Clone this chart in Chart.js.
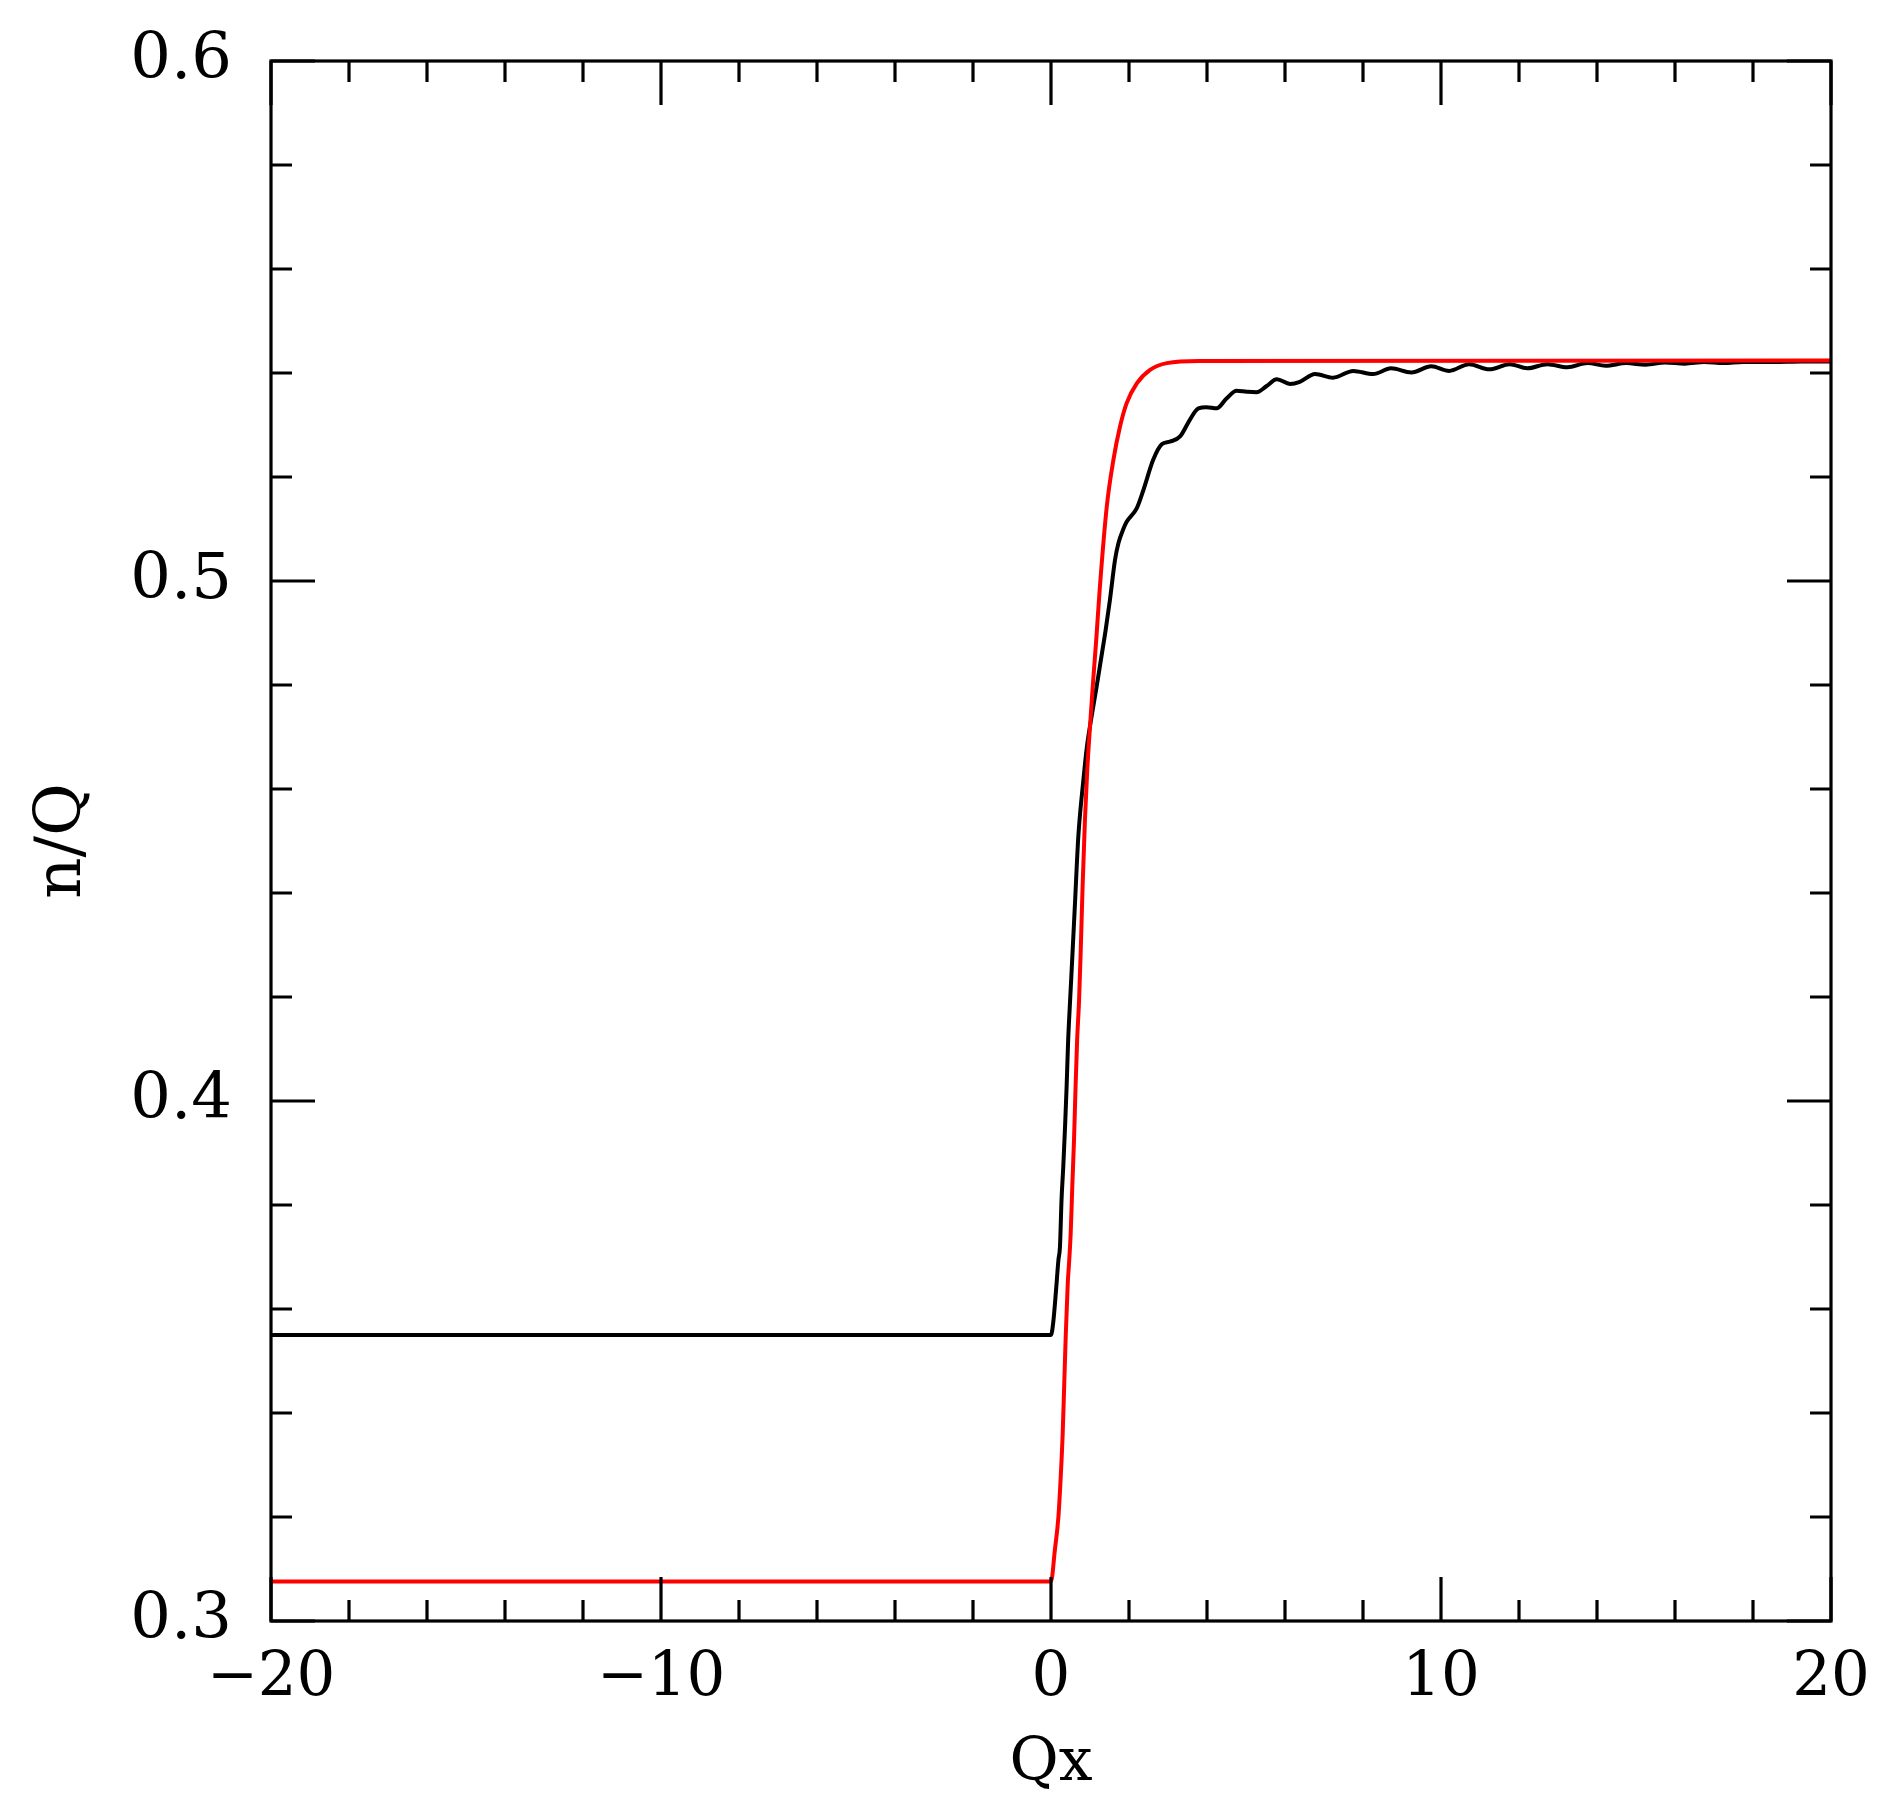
<!DOCTYPE html>
<html>
<head>
<meta charset="utf-8">
<script src="https://cdn.jsdelivr.net/npm/chart.js@4.4.1/dist/chart.umd.min.js"></script>
<style>
  html, body { margin: 0; padding: 0; background: #fff; }
  #wrap { width: 1899px; height: 1818px; }
</style>
</head>
<body>
<div id="wrap"><canvas id="stepChart" width="1899" height="1818"></canvas></div>
<script>
// n/Q vs Qx, black = computed profile, red = smooth step

const blackX = [-20, 0, 0.06, 0.13, 0.19, 0.23, 0.27, 0.315, 0.36, 0.40, 0.44, 0.49, 0.53, 0.615, 0.70, 0.83,
  0.92, 1.04, 1.17, 1.30, 1.40, 1.51, 1.64, 1.73, 1.86, 1.94, 2.2, 2.37, 2.62, 2.84, 3.05, 3.31, 3.56, 3.78,
  3.99, 4.25, 4.50, 4.76, 5.02, 5.27, 5.53, 5.79, 6.13, 6.38, 6.77, 7.23, 7.75, 8.26, 8.72, 9.24, 9.75, 10.21,
  10.72, 11.24, 11.76, 12.21, 12.73, 13.24, 13.76, 14.22, 14.75, 15.25, 15.75, 16.25, 16.75, 17.25, 17.75,
  18.5, 19.25, 20];
const blackY = [0.355, 0.355, 0.3576, 0.3637, 0.3694, 0.372, 0.381, 0.3874, 0.395, 0.4027, 0.4117, 0.4194,
  0.4252, 0.438, 0.4508, 0.4617, 0.4681, 0.4739, 0.4797, 0.4858, 0.4905, 0.4963, 0.504, 0.5073, 0.5101,
  0.5114, 0.514, 0.5175, 0.5233, 0.5263, 0.5268, 0.5278, 0.531, 0.5332, 0.5334, 0.5332, 0.5351, 0.5366,
  0.5364, 0.5363, 0.5375, 0.5388, 0.5379, 0.5383, 0.5398, 0.5391, 0.5404, 0.5398, 0.5409, 0.5401, 0.5413,
  0.5404, 0.5417, 0.5407, 0.5417, 0.5409, 0.5417, 0.5411, 0.5419, 0.5414, 0.5419, 0.5416, 0.542, 0.5418,
  0.5421, 0.5419, 0.5421, 0.5421, 0.5422, 0.5422];

const redX = [-20, 0, 0.10, 0.19, 0.25, 0.30, 0.34, 0.38, 0.43, 0.46, 0.505, 0.546, 0.59, 0.63, 0.67, 0.72,
  0.76, 0.81, 0.87, 0.93, 1.0, 1.07, 1.16, 1.25, 1.43, 1.60, 1.77, 1.94, 2.2, 2.54, 2.97, 3.82, 20];
const redY = [0.3076, 0.3076, 0.3137, 0.32, 0.3278, 0.3361, 0.3457, 0.3553, 0.365, 0.3685, 0.3746, 0.3836,
  0.3925, 0.4027, 0.4117, 0.4194, 0.4284, 0.4412, 0.454, 0.4637, 0.472, 0.4797, 0.4887, 0.4985, 0.5143,
  0.5233, 0.5297, 0.5342, 0.538, 0.5406, 0.5419, 0.5423, 0.5424];

const xMajor = [-20, -10, 0, 10, 20];
const xMinor = [-18, -16, -14, -12, -8, -6, -4, -2, 2, 4, 6, 8, 12, 14, 16, 18];
const yMajor = [0.3, 0.4, 0.5, 0.6];
const yMinor = [0.32, 0.34, 0.36, 0.38, 0.42, 0.44, 0.46, 0.48, 0.52, 0.54, 0.56, 0.58];

function toPoints(xs, ys) {
  return xs.map((x, i) => ({ x: x, y: ys[i] }));
}

const FONT = 'DejaVu Serif';

// frame with inward ticks on all four sides
const frameTicks = {
  id: 'frameTicks',
  afterDraw(chart) {
    const { ctx, chartArea: a, scales } = chart;
    const big = 44, small = 21;
    ctx.save();
    ctx.strokeStyle = '#000';
    ctx.lineWidth = 3.2;
    ctx.lineCap = 'butt';
    ctx.strokeRect(a.left, a.top, a.right - a.left, a.bottom - a.top);
    ctx.beginPath();
    const xt = (vals, len) => vals.forEach(v => {
      const px = scales.x.getPixelForValue(v);
      ctx.moveTo(px, a.bottom); ctx.lineTo(px, a.bottom - len);
      ctx.moveTo(px, a.top); ctx.lineTo(px, a.top + len);
    });
    const yt = (vals, len) => vals.forEach(v => {
      const py = scales.y.getPixelForValue(v);
      ctx.moveTo(a.left, py); ctx.lineTo(a.left + len, py);
      ctx.moveTo(a.right, py); ctx.lineTo(a.right - len, py);
    });
    xt(xMajor, big); xt(xMinor, small);
    yt(yMajor, big); yt(yMinor, small);
    ctx.stroke();
    ctx.restore();
  }
};

const ctx = document.getElementById('stepChart').getContext('2d');
const stepChart = new Chart(ctx, {
  type: 'line',
  data: {
    datasets: [{
      label: 'step',
      data: toPoints(redX, redY),
      borderColor: '#ff0000',
      borderWidth: 4,
      pointRadius: 0,
      cubicInterpolationMode: 'monotone',
      fill: false
    }, {
      label: 'profile',
      data: toPoints(blackX, blackY),
      borderColor: '#000000',
      borderWidth: 4,
      pointRadius: 0,
      cubicInterpolationMode: 'monotone',
      fill: false
    }]
  },
  options: {
    responsive: false,
    animation: false,
    events: [],
    layout: { padding: { top: 61, right: 68, left: 0, bottom: 0 } },
    plugins: {
      legend: { display: false },
      tooltip: { enabled: false }
    },
    scales: {
      x: {
        type: 'linear',
        min: -20,
        max: 20,
        afterFit: s => { s.height = 197; s.paddingLeft = 0; s.paddingRight = 0; },
        afterBuildTicks: s => { s.ticks = xMajor.map(v => ({ value: v })); },
        grid: { display: false, drawTicks: false },
        border: { display: false },
        ticks: {
          color: '#000',
          padding: 22,
          maxRotation: 0,
          font: { family: FONT, size: 61 },
          callback: v => (v < 0 ? '\u2212' + Math.abs(v) : String(v))
        },
        title: {
          display: true,
          text: 'Qx',
          color: '#000',
          font: { family: FONT, size: 60 },
          padding: { top: 0, bottom: 18 }
        }
      },
      y: {
        type: 'linear',
        min: 0.3,
        max: 0.6,
        afterFit: s => { s.width = 271; s.paddingTop = 0; s.paddingBottom = 0; },
        afterBuildTicks: s => { s.ticks = yMajor.map(v => ({ value: v })); },
        grid: { display: false, drawTicks: false },
        border: { display: false },
        ticks: {
          color: '#000',
          padding: 39,
          font: { family: FONT, size: 64 },
          callback: v => v.toFixed(1)
        },
        title: {
          display: true,
          text: 'n/Q',
          color: '#000',
          font: { family: FONT, size: 64 },
          padding: { top: 25, bottom: 0 }
        }
      }
    }
  },
  plugins: [frameTicks]
});
</script>
</body>
</html>
